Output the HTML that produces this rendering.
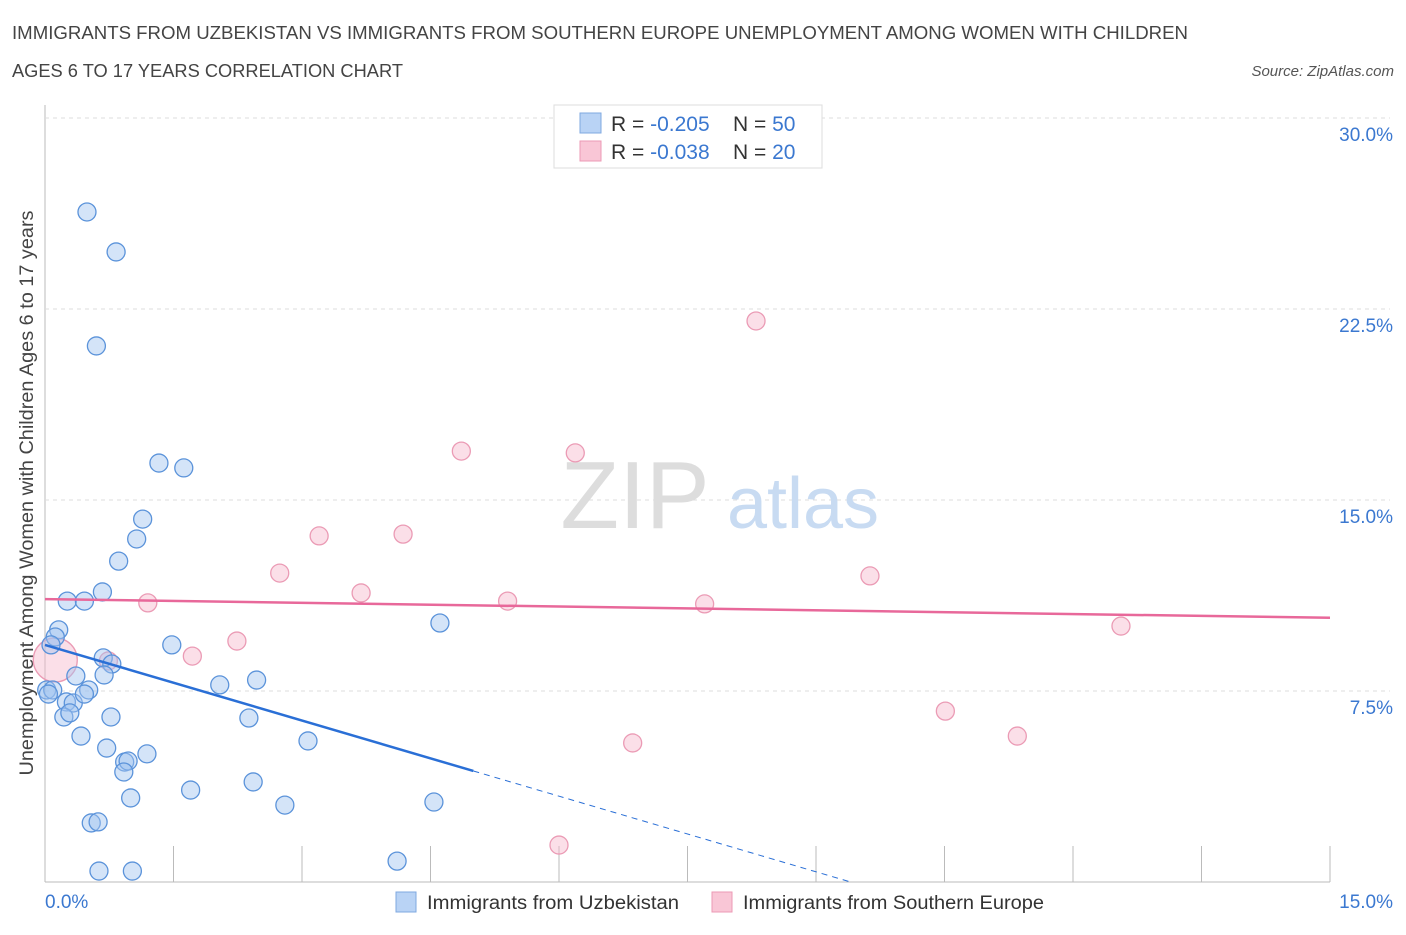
<!DOCTYPE html>
<html><head><meta charset="utf-8"><style>
body{margin:0;background:#fff;font-family:"Liberation Sans",sans-serif;}
svg text{font-family:"Liberation Sans",sans-serif;}
</style></head><body>
<svg width="1406" height="930">
<text x="12" y="39" font-size="18.5" fill="#444" textLength="1176" lengthAdjust="spacingAndGlyphs">IMMIGRANTS FROM UZBEKISTAN VS IMMIGRANTS FROM SOUTHERN EUROPE UNEMPLOYMENT AMONG WOMEN WITH CHILDREN</text>
<text x="12" y="77" font-size="18.5" fill="#444" textLength="391" lengthAdjust="spacingAndGlyphs">AGES 6 TO 17 YEARS CORRELATION CHART</text>
<text x="1394" y="76" font-size="15" font-style="italic" fill="#555" text-anchor="end">Source: ZipAtlas.com</text>
<text x="33" y="493" font-size="19" fill="#444" text-anchor="middle" textLength="565" lengthAdjust="spacingAndGlyphs" transform="rotate(-90 33 493)">Unemployment Among Women with Children Ages 6 to 17 years</text>
<g id="grid"></g>
<text x="635" y="528" font-size="96" font-family="Liberation Serif" fill="#ddd" text-anchor="middle">ZIP</text>
<text x="803" y="528" font-size="72" fill="#c8dbf2" text-anchor="middle">atlas</text>
<g id="marks"></g>
<g>
<rect x="554" y="105" width="268" height="63" fill="#fff" stroke="#ddd"/>
<rect x="580" y="113" width="21" height="20" fill="#b9d3f5" stroke="#7fa8e0"/>
<rect x="580" y="141" width="21" height="20" fill="#f9c6d6" stroke="#ec9ab5"/>
<text x="611" y="131" font-size="21" fill="#333">R = <tspan fill="#3b78d0">-0.205</tspan><tspan x="733">N = </tspan><tspan fill="#3b78d0">50</tspan></text>
<text x="611" y="159" font-size="21" fill="#333">R = <tspan fill="#3b78d0">-0.038</tspan><tspan x="733">N = </tspan><tspan fill="#3b78d0">20</tspan></text>
</g>
<g>
<rect x="396" y="892" width="20" height="20" fill="#b9d3f5" stroke="#7fa8e0"/>
<text x="427" y="909" font-size="19" fill="#333" textLength="252" lengthAdjust="spacingAndGlyphs">Immigrants from Uzbekistan</text>
<rect x="712" y="892" width="20" height="20" fill="#f9c6d6" stroke="#ec9ab5"/>
<text x="743" y="909" font-size="19" fill="#333" textLength="301" lengthAdjust="spacingAndGlyphs">Immigrants from Southern Europe</text>
</g>
</svg>
<script>
const yTicks=[7.5,15,22.5,30];
const yTickLabels=["7.5%","15.0%","22.5%","30.0%"];
const xTickLabels=["0.0%","15.0%"];
const blueX=[0.49,0.83,0.60,1.33,1.62,1.14,1.07,0.86,0.67,0.26,0.46,0.16,0.12,0.07,0.02,0.09,0.04,0.68,0.78,0.36,0.69,0.25,0.33,0.51,0.46,0.22,0.29,0.42,0.77,0.72,0.93,0.97,0.92,1.19,1.00,0.54,0.62,0.63,1.02,1.48,2.04,2.47,2.38,3.07,1.70,2.43,2.80,4.61,4.54,4.11];
const blueY=[26.31,24.74,21.05,16.45,16.26,14.25,13.47,12.60,11.39,11.03,11.03,9.90,9.62,9.31,7.54,7.54,7.38,8.80,8.56,8.09,8.13,7.07,7.03,7.54,7.38,6.48,6.64,5.73,6.48,5.26,4.71,4.75,4.32,5.03,3.30,2.32,2.36,0.43,0.43,9.31,7.74,7.93,6.44,5.54,3.61,3.93,3.02,10.17,3.14,0.82];
const pinkX=[8.30,4.86,6.19,3.20,4.18,2.74,9.63,3.69,1.20,5.40,7.70,12.56,2.24,1.72,0.74,10.51,11.35,6.86,6.00,0.12];
const pinkY=[22.03,16.92,16.85,13.59,13.66,12.13,12.02,11.35,10.96,11.03,10.92,10.05,9.46,8.87,8.68,6.71,5.73,5.46,1.45,8.72];
const pinkR=[9,9,9,9,9,9,9,9,9,9,9,9,9,9,9,9,9,9,9,22];
const blueTrend=[9.31,-0.99]; // intercept, slope
const pinkTrend=[11.11,-0.049];
const NS="http://www.w3.org/2000/svg";
const X=v=>45+v/15*1285, Y=v=>882-v/7.5*191;
const grid=document.getElementById('grid'), marks=document.getElementById('marks');
function mk(tag,at,par){const e=document.createElementNS(NS,tag);for(const k in at)e.setAttribute(k,at[k]);par.appendChild(e);return e;}
let a=mk('line',{x1:45,y1:105,x2:45,y2:882,stroke:'#bbb'},grid);


let b=mk('line',{x1:45,y1:882,x2:1330,y2:882,stroke:'#bbb'},grid);


for(let i=1;i<=10;i++){let t=mk('line',{x1:X(i*1.5),y1:846,x2:X(i*1.5),y2:882,stroke:'#bbb'},grid);

}
yTicks.forEach((v,i)=>{let g=mk('line',{x1:45,y1:Y(v),x2:1390,y2:Y(v),stroke:'#ddd','stroke-dasharray':'4,4'},grid);


let t=mk('text',{x:1393,y:Y(v)+23,'font-size':19,fill:'#3b78d0','text-anchor':'end'},grid);t.textContent=yTickLabels[i];

});
let xl0=mk('text',{x:45,y:908,'font-size':19,fill:'#3b78d0'},grid);xl0.textContent=xTickLabels[0];


let xl1=mk('text',{x:1393,y:908,'font-size':19,fill:'#3b78d0','text-anchor':'end'},grid);xl1.textContent=xTickLabels[1];


pinkX.forEach((v,i)=>{let c=mk('circle',{cx:X(v),cy:Y(pinkY[i]),r:pinkR[i],fill:'rgba(246,183,203,0.45)',stroke:'#eb9bb5','stroke-width':1.3},marks);

});
blueX.forEach((v,i)=>{let c=mk('circle',{cx:X(v),cy:Y(blueY[i]),r:9,fill:'rgba(160,196,240,0.45)',stroke:'#5b93da','stroke-width':1.3},marks);

});
const bx0=0,bx1=5.0,bxEnd=-blueTrend[0]/blueTrend[1];
let l1=mk('line',{x1:X(bx0),y1:Y(blueTrend[0]),x2:X(bx1),y2:Y(blueTrend[0]+blueTrend[1]*bx1),stroke:'#2a6fd6','stroke-width':2.5},marks);


let l2=mk('line',{x1:X(bx1),y1:Y(blueTrend[0]+blueTrend[1]*bx1),x2:X(bxEnd),y2:Y(0),stroke:'#2a6fd6','stroke-width':1,'stroke-dasharray':'6,5'},marks);


let l3=mk('line',{x1:X(0),y1:Y(pinkTrend[0]),x2:X(15),y2:Y(pinkTrend[0]+pinkTrend[1]*15),stroke:'#e8689a','stroke-width':2.5},marks);


</script>
</body></html>
